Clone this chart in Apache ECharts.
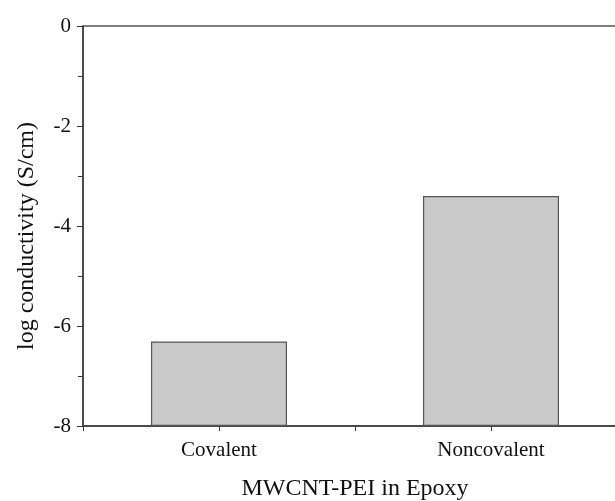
<!DOCTYPE html>
<html><head><meta charset="utf-8">
<script src="https://cdn.jsdelivr.net/npm/echarts@6/dist/echarts.min.js"></script>
<style>html,body{margin:0;padding:0;background:#fff}#c{width:615px;height:501px}</style>
</head><body><div id="c"></div>
<script>
const categories = ['Covalent', 'Noncovalent'];
const logConductivity = [-6.31, -3.40];
const yTicks = [-8, -6, -4, -2, 0];

const font = 'Liberation Serif, Times New Roman, serif';
const axisColor = '#3a3a3a';
const gridBox = {left: 83, top: 26, width: 544, height: 400, outerBoundsMode: 'none', containLabel: false};
const chart = echarts.init(document.getElementById('c'), null, {renderer: 'canvas'});
chart.setOption({
  backgroundColor: '#ffffff',
  animation: false,
  grid: [
    Object.assign({show: true, borderColor: '#555', borderWidth: 1.5, backgroundColor: 'transparent'}, gridBox),
    Object.assign({show: false}, gridBox)
  ],
  xAxis: [{
    type: 'category', data: categories, gridIndex: 0, position: 'bottom',
    name: 'MWCNT-PEI in Epoxy', nameLocation: 'middle', nameGap: 51,
    nameTextStyle: {fontFamily: font, fontSize: 24, color: '#111'},
    axisLine: {onZero: false, lineStyle: {color: axisColor, width: 1.5}},
    axisTick: {show: true, alignWithLabel: true, length: 5, lineStyle: {color: axisColor}},
    axisLabel: {fontFamily: font, fontSize: 21, color: '#111', margin: 14},
    splitLine: {show: false}
  }, {
    type: 'category', data: categories, gridIndex: 1, position: 'bottom',
    axisLine: {show: false, onZero: false},
    axisTick: {show: true, length: 5, lineStyle: {color: axisColor}},
    axisLabel: {show: false}, splitLine: {show: false}
  }],
  yAxis: [{
    type: 'value', gridIndex: 0, min: yTicks[0], max: yTicks[yTicks.length - 1], interval: 2, startValue: yTicks[0],
    name: 'log conductivity (S/cm)', nameLocation: 'middle', nameGap: 44,
    nameTextStyle: {fontFamily: font, fontSize: 24, color: '#111', padding: [0, 20, 0, 0]},
    axisLine: {show: true, onZero: false, lineStyle: {color: axisColor, width: 1.5}},
    axisTick: {show: true, length: 6, lineStyle: {color: axisColor}},
    minorTick: {show: true, splitNumber: 2, length: 5, lineStyle: {color: axisColor}},
    axisLabel: {fontFamily: font, fontSize: 21, color: '#111', margin: 12},
    splitLine: {show: false}
  }, {
    type: 'value', gridIndex: 1, min: yTicks[0], max: yTicks[yTicks.length - 1], show: false
  }],
  series: [{
    type: 'bar', xAxisIndex: 0, yAxisIndex: 0, data: logConductivity, barWidth: '50%',
    itemStyle: {color: '#c9c9c9', borderColor: '#555', borderWidth: 1.2}
  }]
});
</script></body></html>
